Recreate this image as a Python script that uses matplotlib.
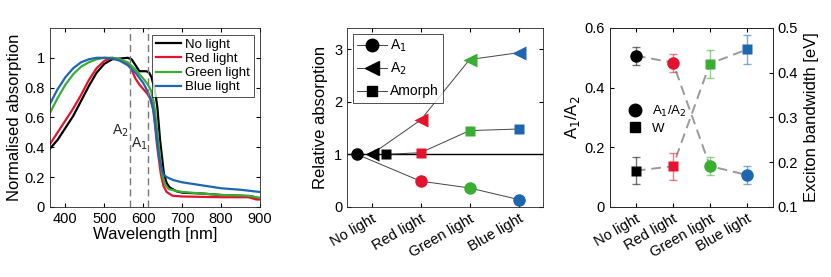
import matplotlib
matplotlib.use('Agg')
import matplotlib.pyplot as plt
from matplotlib.lines import Line2D

plt.rcParams['font.family'] = ['Liberation Sans', 'DejaVu Sans']
plt.rcParams['xtick.direction'] = 'in'
plt.rcParams['ytick.direction'] = 'in'
plt.rcParams['axes.linewidth'] = 0.6
plt.rcParams['axes.edgecolor'] = '#262626'

# spectra (wavelength in nm, normalised absorption)
wl_black = [360, 380, 400, 420, 440, 460, 480, 500, 520, 540, 560, 570, 580, 590, 600, 608, 615, 621, 630, 636, 643, 653, 660, 668, 685, 702, 750, 800, 850, 880, 890, 900]
ab_black = [0.39, 0.45, 0.53, 0.61, 0.71, 0.81, 0.90, 0.96, 0.99, 0.995, 1.0, 0.99, 0.95, 0.91, 0.91, 0.91, 0.90, 0.87, 0.78, 0.67, 0.45, 0.22, 0.16, 0.13, 0.105, 0.095, 0.09, 0.08, 0.075, 0.07, 0.06, 0.06]
wl_red = [360, 380, 400, 420, 440, 460, 480, 500, 520, 540, 560, 570, 580, 590, 600, 610, 617, 625, 630, 635, 645, 652, 660, 675, 700, 800, 870, 890, 900]
ab_red = [0.42, 0.50, 0.58, 0.66, 0.75, 0.85, 0.93, 0.98, 1.0, 0.99, 0.96, 0.92, 0.86, 0.82, 0.79, 0.76, 0.73, 0.66, 0.55, 0.42, 0.22, 0.14, 0.10, 0.075, 0.07, 0.065, 0.065, 0.05, 0.05]
wl_green = [360, 380, 400, 420, 440, 460, 480, 500, 520, 540, 560, 580, 600, 612, 620, 627, 631, 638, 648, 656, 665, 680, 700, 750, 800, 870, 900]
ab_green = [0.63, 0.73, 0.82, 0.89, 0.94, 0.97, 0.99, 1.0, 1.0, 0.99, 0.97, 0.92, 0.86, 0.82, 0.78, 0.70, 0.62, 0.45, 0.22, 0.15, 0.12, 0.11, 0.10, 0.09, 0.08, 0.075, 0.06]
wl_blue = [360, 380, 400, 420, 440, 460, 480, 500, 520, 540, 560, 580, 600, 610, 620, 628, 635, 640, 646, 651, 660, 677, 700, 750, 800, 850, 900]
ab_blue = [0.69, 0.79, 0.87, 0.93, 0.97, 0.99, 1.0, 1.0, 0.995, 0.98, 0.95, 0.90, 0.83, 0.78, 0.72, 0.62, 0.45, 0.34, 0.27, 0.22, 0.20, 0.18, 0.165, 0.145, 0.125, 0.115, 0.10]
peak_a2 = 566
peak_a1 = 613

conditions = ['No light', 'Red light', 'Green light', 'Blue light']
cond_colors = ['black', '#E3132F', '#3AAE32', '#1F66B1']

# relative absorption
rel_a1 = [1.0, 0.49, 0.36, 0.14]
rel_a2 = [1.0, 1.65, 2.80, 2.93]
rel_amorph = [1.0, 1.03, 1.45, 1.48]

# ratio and bandwidth with errors
ratio = [0.507, 0.484, 0.137, 0.107]
ratio_err = [0.03, 0.03, 0.03, 0.03]
bandwidth = [0.181, 0.191, 0.420, 0.452]
bandwidth_err = [0.03, 0.03, 0.031, 0.032]

fig = plt.figure(figsize=(8.31, 2.77), dpi=100)

# --- panel 1 ---
ax1 = fig.add_axes([0.060, 0.253, 0.253, 0.646])
ax1.plot(wl_black, ab_black, color=cond_colors[0], lw=1.6, label='No light')
ax1.plot(wl_red, ab_red, color=cond_colors[1], lw=1.6, label='Red light')
ax1.plot(wl_green, ab_green, color=cond_colors[2], lw=1.6, label='Green light')
ax1.plot(wl_blue, ab_blue, color=cond_colors[3], lw=1.6, label='Blue light')
ax1.axvline(peak_a2, color='#777777', ls=(0, (5, 3)), lw=1)
ax1.axvline(peak_a1, color='#777777', ls=(0, (5, 3)), lw=1)
ax1.text(peak_a2 - 3, 0.51, 'A$_2$', ha='right', va='center', fontsize=10, color='#262626')
ax1.text(peak_a2 + 3, 0.42, 'A$_1$', ha='left', va='center', fontsize=10, color='#262626')
ax1.set_xlim(360, 900)
ax1.set_ylim(0, 1.2)
ax1.set_xticks([400, 500, 600, 700, 800, 900])
ax1.set_yticks([0, 0.2, 0.4, 0.6, 0.8, 1])
ax1.set_yticklabels(['0', '0.2', '0.4', '0.6', '0.8', '1'])
ax1.tick_params(top=True, right=True, labelsize=10.5, length=3)
ax1.set_xlabel('Wavelength [nm]', fontsize=12, labelpad=1)
ax1.set_ylabel('Normalised absorption', fontsize=12, labelpad=2)
leg = ax1.legend(loc='upper right', fontsize=9.5, frameon=True, fancybox=False,
                 edgecolor='black', handlelength=1.9, borderpad=0.3,
                 labelspacing=0.15, handletextpad=0.3, borderaxespad=0.5)
leg.get_frame().set_linewidth(0.6)

# --- panel 2 ---
ax2 = fig.add_axes([0.4176, 0.253, 0.236, 0.646])
x_pos = [0, 1, 2, 3]
ax2.axhline(1, color='black', lw=1)
xa1 = [-0.3] + x_pos[1:]
xam = [0.3] + x_pos[1:]
ax2.plot(xa1, rel_a1, color='#444444', lw=0.7, zorder=2)
ax2.plot(x_pos, rel_a2, color='#444444', lw=0.7, zorder=2)
ax2.plot(xam, rel_amorph, color='#444444', lw=0.7, zorder=2)
for i in range(4):
    ax2.plot(xa1[i], rel_a1[i], 'o', color=cond_colors[i], ms=9, mec='none', zorder=3)
    ax2.plot(x_pos[i], rel_a2[i], '<', color=cond_colors[i], ms=10, mec='none', zorder=3)
    ax2.plot(xam[i], rel_amorph[i], 's', color=cond_colors[i], ms=7, mec='none', zorder=3)
handles = [Line2D([], [], color='#444444', lw=0.7, marker='o', mfc='black', mec='black', ms=9),
           Line2D([], [], color='#444444', lw=0.7, marker='<', mfc='black', mec='black', ms=10),
           Line2D([], [], color='#444444', lw=0.7, marker='s', mfc='black', mec='black', ms=7)]
leg2 = ax2.legend(handles, ['A$_1$', 'A$_2$', 'Amorph'], loc='upper left', fontsize=10,
                  frameon=True, fancybox=False, edgecolor='black', handlelength=2.2,
                  borderpad=0.3, labelspacing=0.5, handletextpad=0.2, borderaxespad=0.4)
leg2.get_frame().set_linewidth(0.6)
ax2.set_xlim(-0.5, 3.5)
ax2.set_ylim(0, 3.4)
ax2.set_xticks(x_pos)
ax2.set_xticklabels(conditions, rotation=30, ha='right', rotation_mode='anchor')
ax2.set_yticks([0, 1, 2, 3])
ax2.tick_params(top=True, right=True, labelsize=10.5, length=3)
ax2.set_ylabel('Relative absorption', fontsize=12, labelpad=4)

# --- panel 3 ---
ax3 = fig.add_axes([0.734, 0.253, 0.196, 0.646])
ax3r = ax3.twinx()
ax3.plot(x_pos, ratio, color='#999999', ls=(0, (5, 3)), lw=1.4, zorder=1)
ax3r.plot(x_pos, bandwidth, color='#999999', ls=(0, (5, 3)), lw=1.4, zorder=1)
for i in range(4):
    ax3.errorbar(x_pos[i], ratio[i], yerr=ratio_err[i], fmt='none', ecolor=cond_colors[i],
                 alpha=0.55, elinewidth=1, capsize=3)
    ax3.plot(x_pos[i], ratio[i], 'o', color=cond_colors[i], ms=9, mec='none', zorder=3)
    ax3r.errorbar(x_pos[i], bandwidth[i], yerr=bandwidth_err[i], fmt='none', ecolor=cond_colors[i],
                  alpha=0.55, elinewidth=1, capsize=3)
    ax3r.plot(x_pos[i], bandwidth[i], 's', color=cond_colors[i], ms=7.5, mec='none', zorder=3)
h3 = [Line2D([], [], ls='none', marker='o', color='black', ms=9),
      Line2D([], [], ls='none', marker='s', color='black', ms=7.5)]
ax3r.legend(h3, ['A$_1$/A$_2$', 'W'], loc='center left', bbox_to_anchor=(0.0, 0.49),
            fontsize=9.5, frameon=False, handletextpad=0.3, labelspacing=0.3)
ax3.set_xlim(-0.7, 3.7)
ax3.set_ylim(0, 0.6)
ax3.set_yticks([0, 0.2, 0.4, 0.6])
ax3.set_yticklabels(['0', '0.2', '0.4', '0.6'])
ax3r.set_ylim(0.1, 0.5)
ax3r.set_yticks([0.1, 0.2, 0.3, 0.4, 0.5])
ax3.set_xticks(x_pos)
ax3.set_xticklabels(conditions, rotation=30, ha='right', rotation_mode='anchor')
ax3.tick_params(top=True, labelsize=10.5, length=3)
ax3r.tick_params(labelsize=10.5, length=3)
ax3.set_ylabel('A$_1$/A$_2$', fontsize=12, labelpad=2)
ax3r.set_ylabel('Exciton bandwidth [eV]', fontsize=12, labelpad=4)

fig.savefig('out.png', dpi=100)
